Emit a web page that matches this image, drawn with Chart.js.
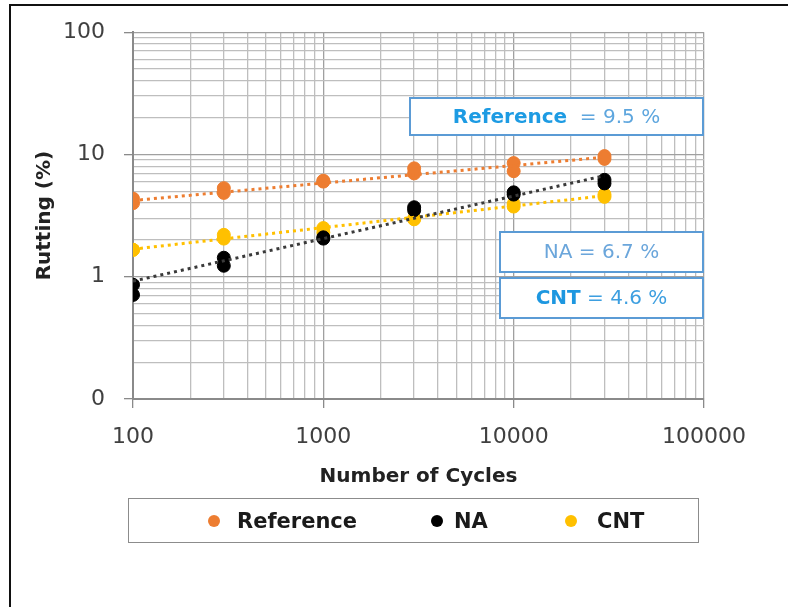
<!DOCTYPE html>
<html>
<head>
<meta charset="utf-8">
<script src="https://cdn.jsdelivr.net/npm/chart.js@4/dist/chart.umd.min.js"></script>
<style>
  html, body { margin: 0; padding: 0; background: #fff; }
  #wrap { position: relative; width: 788px; height: 607px; overflow: hidden; }
  #frame { position: absolute; left: 9px; top: 4px; width: 790px; height: 620px;
           border-left: 2px solid #111; border-top: 2px solid #111; }
  #chart { position: absolute; left: 0; top: 0; }
  #legend { position: absolute; left: 128px; top: 498px; width: 569px; height: 43px;
            border: 1.5px solid #8c8c8c; box-sizing: content-box; }
  .item { position: absolute; top: 0; height: 43px; display: flex; align-items: center;
          font: bold 21px "DejaVu Sans", sans-serif; color: #1a1a1a; }
  .dot { width: 12px; height: 12px; border-radius: 50%; display: inline-block; }
</style>
</head>
<body>
<div id="wrap">
  <div id="frame"></div>
  <canvas id="chart" width="788" height="607"></canvas>
  <div id="legend"></div>
</div>
<script>
'use strict';

const cycles = [100, 300, 1000, 3000, 10000, 30000]

// two specimens per mix
const refA = [4.35, 5.3, 6.1, 7.7, 8.5, 9.7]
const refB = [4.0, 4.85, 6.0, 7.0, 7.3, 9.2]
const naA  = [0.86, 1.43, 2.05, 3.7, 4.9, 6.2]
const naB  = [0.71, 1.23, 2.1, 3.5, 4.7, 5.8]
const cntA = [1.66, 2.2, 2.5, 3.0, 3.95, 4.7]
const cntB = [1.66, 2.05, 2.3, 2.95, 3.75, 4.5]

// power trend lines (end points)
const trendX   = [100, 30000]
const refTrend = [4.2, 9.5]
const naTrend  = [0.92, 6.7]
const cntTrend = [1.68, 4.6]

const seriesNames = ['Reference', 'NA', 'CNT']

const xMajor = [100, 1000, 10000, 100000]
const xTickLabels = ['100', '1000', '10000', '100000']
const yMajor = [0.1, 1, 10, 100]
const yTickLabels = ['0', '1', '10', '100']

const ORANGE = '#ED7D31'
const BLACK = '#000000'
const YELLOW = '#FFC000'

function pairs(xs, a, b) {
    let out = xs.map((x, i) => ({ x: x, y: a[i] }))
    if (b) out = out.concat(xs.map((x, i) => ({ x: x, y: b[i] })))
    return out
}

function logTicks(majors) {
    const t = []
    for (let i = 0; i < majors.length - 1; i++) {
        for (let k = 1; k <= 9; k++) t.push({ value: majors[i] * k })
    }
    t.push({ value: majors[majors.length - 1] })
    return t
}

function isMajor(v) {
    const l = Math.log10(v)
    return Math.abs(l - Math.round(l)) < 1e-9
}

function labelFor(majors, labels, v) {
    for (let i = 0; i < majors.length; i++) {
        if (Math.abs(majors[i] - v) / majors[i] < 1e-9) return labels[i]
    }
    return ''
}

function pointSet(label, data, color) {
    return {
        type: 'scatter', label: label, data: data, order: 2,
        backgroundColor: color, borderColor: color,
        pointRadius: 6.5, pointHoverRadius: 6.5, showLine: false
    }
}

function trendSet(label, ys, color) {
    return {
        type: 'line', label: label, data: pairs(trendX, ys), order: 1,
        borderColor: color, borderWidth: 3, borderDash: [3, 4],
        pointRadius: 0, fill: false, tension: 0
    }
}

// boxes with the trend values
const notesPlugin = {
    id: 'notes',
    afterDatasetsDraw(chart) {
        const c = chart.ctx
        const right = chart.chartArea.right - 1
        const boxes = [
            { l: 410, t: 98, h: 37, parts: [['Reference', 'bold', '#1d9be3'], ['  = 9.5 %', 'normal', '#5ea6de']] },
            { l: 500, t: 232, h: 40, parts: [['NA = 6.7 %', 'normal', '#6ba6db']] },
            { l: 500, t: 278, h: 40, parts: [['CNT', 'bold', '#1d97e0'], [' = 4.6 %', 'normal', '#3d9fe0']] }
        ]
        c.save()
        boxes.forEach(b => {
            c.fillStyle = '#fff'
            c.fillRect(b.l, b.t, right - b.l, b.h)
            c.strokeStyle = '#5b9bd5'
            c.lineWidth = 2
            c.strokeRect(b.l, b.t, right - b.l, b.h)
            let total = 0
            b.parts.forEach(p => {
                c.font = p[1] + ' 20px "DejaVu Sans"'
                total += c.measureText(p[0]).width
            })
            let x = (b.l + right) / 2 - total / 2
            c.textBaseline = 'middle'
            c.textAlign = 'left'
            b.parts.forEach(p => {
                c.font = p[1] + ' 20px "DejaVu Sans"'
                c.fillStyle = p[2]
                c.fillText(p[0], x, b.t + b.h / 2 + 1)
                x += c.measureText(p[0]).width
            })
        })
        c.restore()
    }
}

const ctx = document.getElementById('chart').getContext('2d')
const chart = new Chart(ctx, {
    data: {
        datasets: [
            trendSet('Reference trend', refTrend, ORANGE),
            trendSet('NA trend', naTrend, '#3a3a3a'),
            trendSet('CNT trend', cntTrend, YELLOW),
            pointSet(seriesNames[0], pairs(cycles, refA, refB), ORANGE),
            pointSet(seriesNames[1], pairs(cycles, naA, naB), BLACK),
            pointSet(seriesNames[2], pairs(cycles, cntA, cntB), YELLOW)
        ]
    },
    options: {
        responsive: false,
        animation: false,
        layout: { padding: { left: 20, right: 84, top: 29, bottom: 113 } },
        plugins: {
            legend: { display: false },
            tooltip: { enabled: false }
        },
        scales: {
            x: {
                type: 'logarithmic', min: 100, max: 100000,
                afterBuildTicks: s => { s.ticks = logTicks(xMajor) },
                afterFit: s => { s.height = 95 },
                border: { color: '#8a8a8a', width: 2 },
                grid: {
                    color: c => isMajor(c.tick.value) ? '#a0a0a0' : '#bebebe',
                    tickColor: c => isMajor(c.tick.value) ? '#8a8a8a' : 'rgba(0,0,0,0)',
                    tickLength: 9, lineWidth: 1.3
                },
                ticks: {
                    autoSkip: false, maxRotation: 0, padding: 16,
                    color: '#404040', font: { family: 'DejaVu Sans', size: 22 },
                    callback: v => labelFor(xMajor, xTickLabels, v)
                },
                title: {
                    display: true, text: 'Number of Cycles', color: '#222',
                    font: { family: 'DejaVu Sans', size: 20, weight: 'bold' },
                    padding: { top: 0, bottom: 5 }
                }
            },
            y: {
                type: 'logarithmic', min: 0.1, max: 100,
                afterBuildTicks: s => { s.ticks = logTicks(yMajor) },
                afterFit: s => { s.width = 113 },
                border: { color: '#8a8a8a', width: 2 },
                grid: {
                    color: c => isMajor(c.tick.value) ? '#a0a0a0' : '#bebebe',
                    tickColor: c => isMajor(c.tick.value) ? '#8a8a8a' : 'rgba(0,0,0,0)',
                    tickLength: 9, lineWidth: 1.3
                },
                ticks: {
                    autoSkip: false, padding: 19,
                    color: '#404040', font: { family: 'DejaVu Sans', size: 22 },
                    callback: v => labelFor(yMajor, yTickLabels, v)
                },
                title: {
                    display: true, text: 'Rutting (%)', color: '#222',
                    font: { family: 'DejaVu Sans', size: 20, weight: 'bold' },
                    padding: { top: 13, bottom: 0 }
                }
            }
        }
    },
    plugins: [notesPlugin]
})

// legend like the one in the sheet
const legendColors = [ORANGE, BLACK, YELLOW]
const dotLeft = [207, 430, 564]
const textGap = [17, 11, 20]
let html = ''
seriesNames.forEach((name, i) => {
    html += `<div class="item" style="left:${dotLeft[i] - 128}px">
                <span class="dot" style="background:${legendColors[i]}"></span>
                <span style="margin-left:${textGap[i]}px">${name}</span>
             </div>`
})
document.getElementById('legend').innerHTML = html
</script>
</body>
</html>
